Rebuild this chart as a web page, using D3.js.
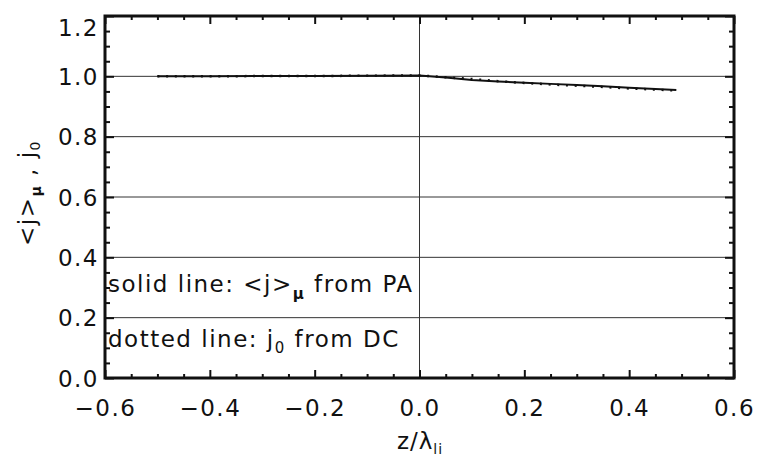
<!DOCTYPE html>
<html>
<head>
<meta charset="utf-8">
<script src="https://cdn.jsdelivr.net/npm/d3@7"></script>
<style>
  body { margin: 0; background: #fff; }
  text { font-family: "DejaVu Sans", sans-serif; fill: #111; }
</style>
</head>
<body>
<div id="chart"></div>
<script>
var svgWidth = 761;
var svgHeight = 456;
var margin = { top: 16, right: 27, bottom: 78, left: 105 };

var width = svgWidth - margin.left - margin.right;
var height = svgHeight - margin.top - margin.bottom;

// data
var zValues = [-0.5, -0.4, -0.3, -0.2, -0.1, 0.0, 0.05, 0.1, 0.15, 0.2, 0.25, 0.3, 0.35, 0.4, 0.45, 0.49];
var solidValues = [1.000, 1.000, 1.001, 1.001, 1.002, 1.003, 0.996, 0.988, 0.983, 0.979, 0.975, 0.971, 0.967, 0.962, 0.958, 0.955];
var dottedValues = [1.000, 1.000, 1.001, 1.001, 1.002, 1.003, 0.997, 0.991, 0.984, 0.978, 0.973, 0.969, 0.965, 0.960, 0.956, 0.953];
var xTicks = [-0.6, -0.4, -0.2, 0.0, 0.2, 0.4, 0.6];
var yTicks = [0.0, 0.2, 0.4, 0.6, 0.8, 1.0, 1.2];
var yGrid = [0.2, 0.4, 0.6, 0.8, 1.0];
var xGrid = [0.0];

var svg = d3.select("#chart")
    .append("svg")
    .attr("width", svgWidth)
    .attr("height", svgHeight);

var chartGroup = svg.append("g")
    .attr("transform", `translate(${margin.left},${margin.top})`);

var xScale = d3.scaleLinear().domain([-0.6, 0.6]).range([0, width]);
var yScale = d3.scaleLinear().domain([0, 1.2]).range([height, 0]);

var minorX = d3.range(-0.6, 0.6001, 0.05).filter(d => Math.abs(Math.round(d * 5) - d * 5) > 1e-6);
var minorY = d3.range(0, 1.2001, 0.05).filter(d => Math.abs(Math.round(d * 5) - d * 5) > 1e-6);

// grid
chartGroup.selectAll(".hgrid")
    .data(yGrid)
    .enter()
    .append("line")
    .attr("x1", 0).attr("x2", width)
    .attr("y1", d => yScale(d)).attr("y2", d => yScale(d))
    .attr("stroke", "#333").attr("stroke-width", 1);

chartGroup.selectAll(".vgrid")
    .data(xGrid)
    .enter()
    .append("line")
    .attr("x1", d => xScale(d)).attr("x2", d => xScale(d))
    .attr("y1", 0).attr("y2", height)
    .attr("stroke", "#333").attr("stroke-width", 1);

// axes, ticks inward
function styleAxis(g) {
    g.select(".domain").remove();
    g.selectAll("line").attr("stroke", "#111").attr("stroke-width", 2);
    g.selectAll("text").style("font-size", "23px").style("letter-spacing", "1.5px");
}

var bottomAxis = chartGroup.append("g")
    .attr("transform", `translate(0,${height})`)
    .call(d3.axisBottom(xScale).tickValues(xTicks).tickSizeInner(-8).tickSizeOuter(0).tickPadding(22)
        .tickFormat(d => d3.format(".1f")(d).replace("-", "\u2212")));
styleAxis(bottomAxis);

chartGroup.append("g")
    .attr("transform", `translate(0,${height})`)
    .call(d3.axisBottom(xScale).tickValues(minorX).tickSizeInner(-4).tickSizeOuter(0).tickFormat(""))
    .call(styleAxis);

chartGroup.append("g")
    .call(d3.axisTop(xScale).tickValues(xTicks).tickSizeInner(-8).tickSizeOuter(0).tickFormat(""))
    .call(styleAxis);
chartGroup.append("g")
    .call(d3.axisTop(xScale).tickValues(minorX).tickSizeInner(-4).tickSizeOuter(0).tickFormat(""))
    .call(styleAxis);

var leftAxis = chartGroup.append("g")
    .call(d3.axisLeft(yScale).tickValues(yTicks).tickSizeInner(-9).tickSizeOuter(0).tickPadding(6)
        .tickFormat(d3.format(".1f")));
styleAxis(leftAxis);
leftAxis.selectAll(".tick text").attr("dy", d => d === 1.2 ? "0.85em" : "0.36em");

chartGroup.append("g")
    .call(d3.axisLeft(yScale).tickValues(minorY).tickSizeInner(-5).tickSizeOuter(0).tickFormat(""))
    .call(styleAxis);

chartGroup.append("g")
    .attr("transform", `translate(${width},0)`)
    .call(d3.axisRight(yScale).tickValues(yTicks).tickSizeInner(-9).tickSizeOuter(0).tickFormat(""))
    .call(styleAxis);
chartGroup.append("g")
    .attr("transform", `translate(${width},0)`)
    .call(d3.axisRight(yScale).tickValues(minorY).tickSizeInner(-5).tickSizeOuter(0).tickFormat(""))
    .call(styleAxis);

// frame
chartGroup.append("rect")
    .attr("x", 0).attr("y", 0)
    .attr("width", width).attr("height", height)
    .attr("fill", "none").attr("stroke", "#111").attr("stroke-width", 3);

// lines
var solidLine = d3.line()
    .x((d, i) => xScale(zValues[i]))
    .y(d => yScale(d));

chartGroup.append("path")
    .datum(solidValues)
    .attr("d", solidLine)
    .attr("fill", "none")
    .attr("stroke", "#111")
    .attr("stroke-width", 2);

chartGroup.append("path")
    .datum(dottedValues)
    .attr("d", solidLine)
    .attr("fill", "none")
    .attr("stroke", "#111")
    .attr("stroke-width", 2.5)
    .attr("stroke-dasharray", "2,6.7");

// legend text
var legend1 = chartGroup.append("text")
    .attr("x", 3)
    .attr("y", 276)
    .style("font-size", "23px")
    .style("letter-spacing", "1.5px");
legend1.append("tspan").text("solid line: <j>");
legend1.append("tspan").attr("dy", 7).style("font-size", "15px").style("font-weight", "bold").text("\u03bc");
legend1.append("tspan").attr("dy", -7).text(" from PA");

var legend2 = chartGroup.append("text")
    .attr("x", 3)
    .attr("y", 331)
    .style("font-size", "23px")
    .style("letter-spacing", "1.5px");
legend2.append("tspan").text("dotted line: j");
legend2.append("tspan").attr("dy", 6).style("font-size", "15px").text("0");
legend2.append("tspan").attr("dy", -6).text(" from DC");

// axis labels
var xLabel = svg.append("text")
    .attr("x", 420)
    .attr("y", 449)
    .attr("text-anchor", "middle")
    .style("font-size", "23px")
    .style("letter-spacing", "1px");
xLabel.append("tspan").text("z/\u03bb");
xLabel.append("tspan").attr("dy", 5).style("font-size", "14px").text("li");

var yLabel = svg.append("text")
    .attr("transform", "rotate(-90)")
    .attr("x", -193)
    .attr("y", 35)
    .attr("text-anchor", "middle")
    .style("font-size", "23px")
    .style("letter-spacing", "1.5px");
yLabel.append("tspan").text("<j>");
yLabel.append("tspan").attr("dy", 6).style("font-size", "14px").style("font-weight", "bold").text("\u03bc");
yLabel.append("tspan").attr("dy", -6).text(" , j");
yLabel.append("tspan").attr("dy", 5).style("font-size", "14px").text("0");
</script>
</body>
</html>
